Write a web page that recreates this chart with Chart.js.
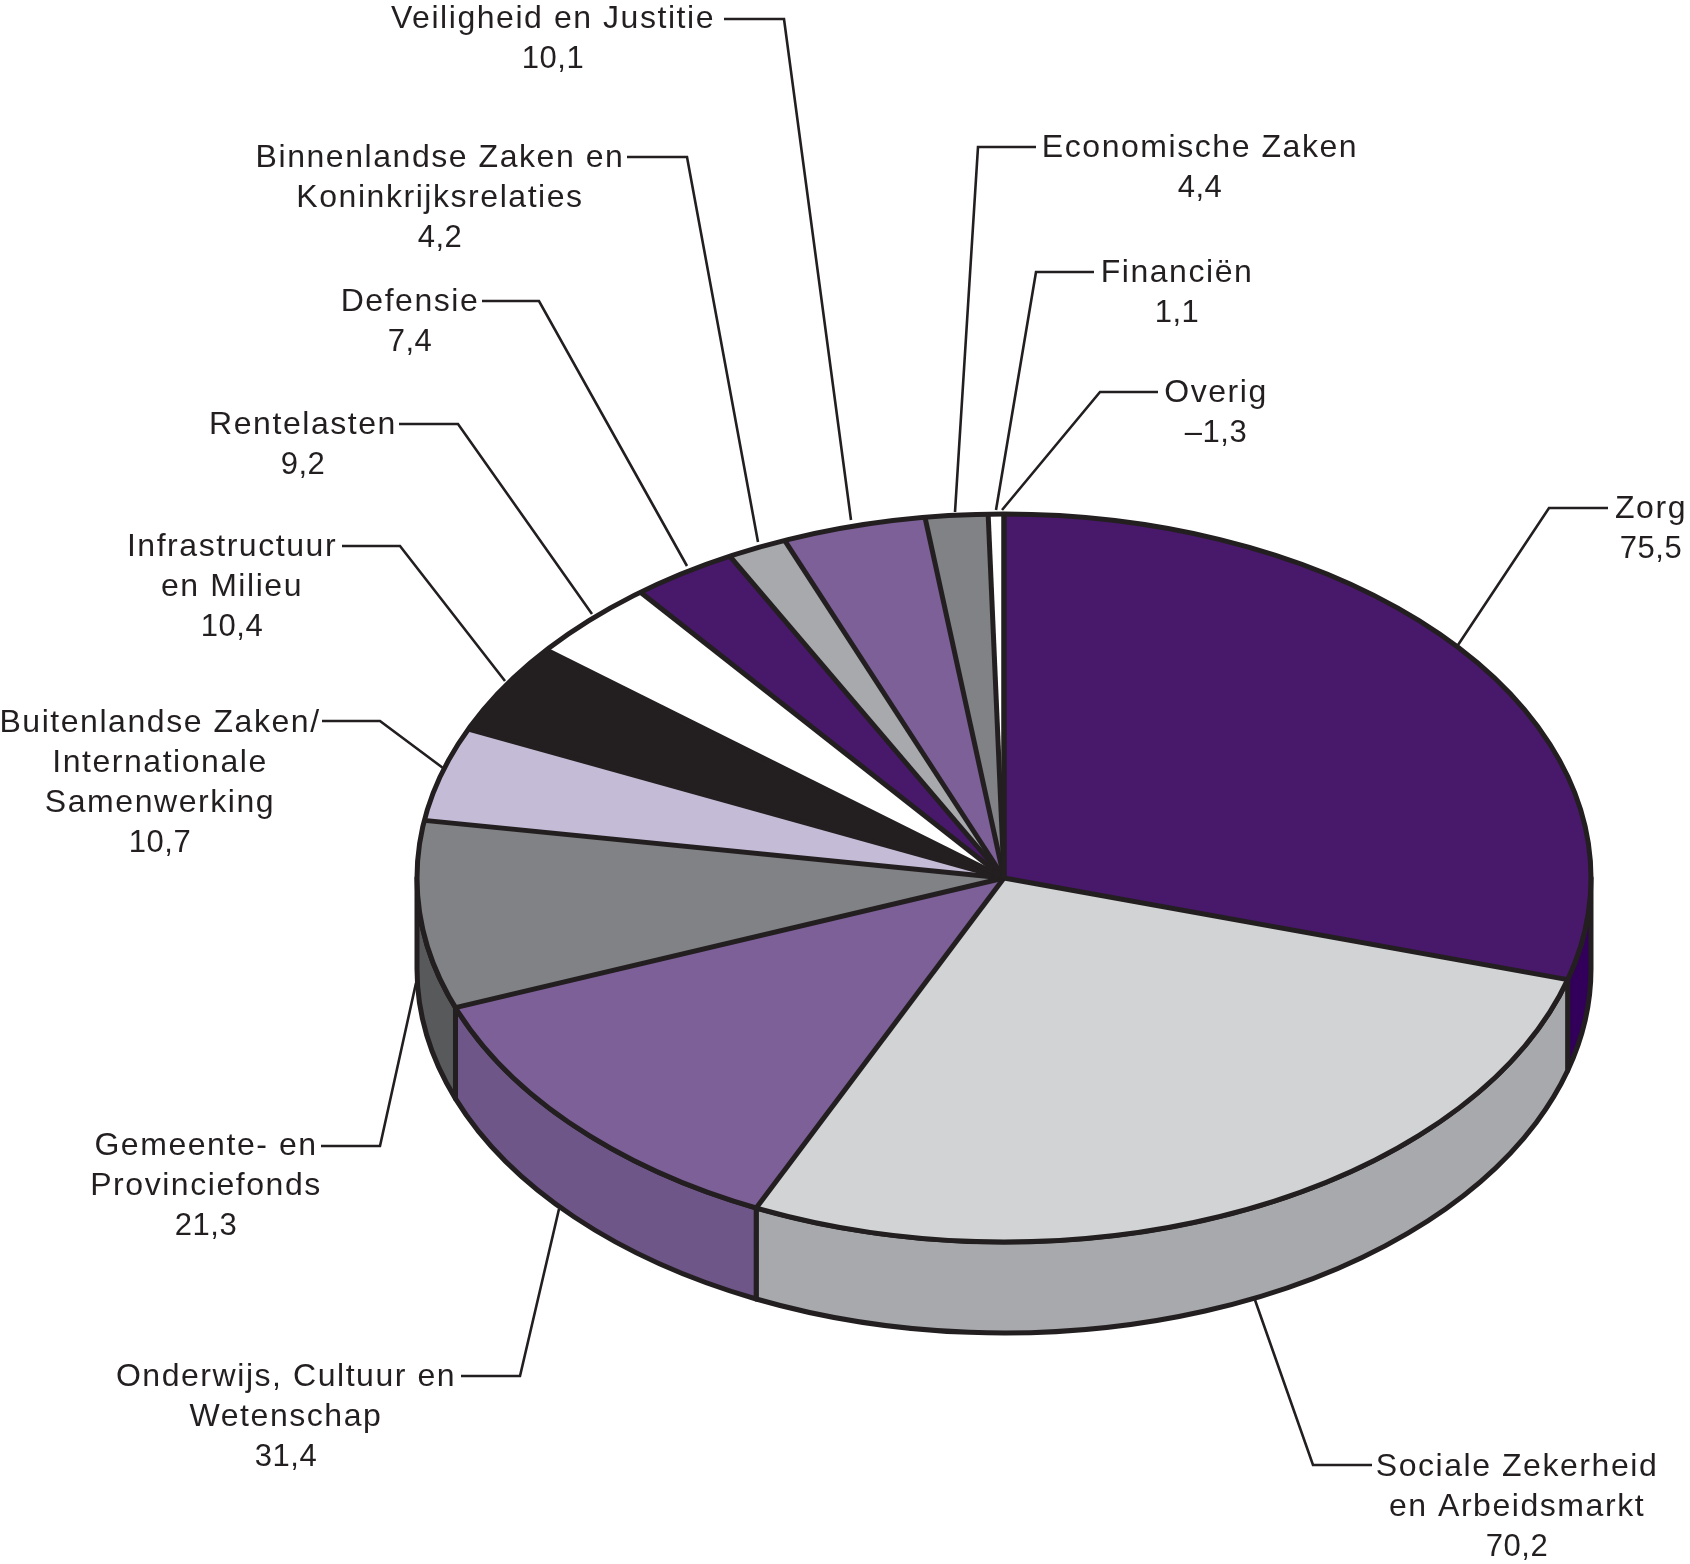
<!DOCTYPE html>
<html lang="nl">
<head>
  <meta charset="UTF-8">
  <title>Uitgaven per sector</title>
  <script src="https://cdn.jsdelivr.net/npm/chart.js"></script>
  <style>
    html, body { margin: 0; padding: 0; background: #fff; }
    canvas { display: block; }
  </style>
</head>
<body>
  <canvas id="pie" width="1690" height="1564"></canvas>

  <script>
    // Data, clockwise from the top of the pie
    const categories = [
      'Zorg', 'Sociale Zekerheid en Arbeidsmarkt', 'Onderwijs, Cultuur en Wetenschap',
      'Gemeente- en Provinciefonds', 'Buitenlandse Zaken/Internationale Samenwerking',
      'Infrastructuur en Milieu', 'Rentelasten', 'Defensie',
      'Binnenlandse Zaken en Koninkrijksrelaties', 'Veiligheid en Justitie',
      'Economische Zaken', 'Financiën', 'Overig'
    ];
    const values = [75.5, 70.2, 31.4, 21.3, 10.7, 10.4, 9.2, 7.4, 4.2, 10.1, 4.4, 1.1, -1.3];

    // Slice colours: top face and side wall
    const topColors = ['#48186a', '#d1d3d4', '#7d6098', '#808285', '#c4bbd6', '#231f20', '#ffffff',
                       '#48186a', '#a7a9ac', '#7d6098', '#808285', '#ffffff', '#ffffff'];
    const sideColors = ['#32005a', '#a7a9ac', '#6f5688', '#58595b', '#a39ab5', '#231f20', '#dddddd',
                        '#32005a', '#808285', '#6f5688', '#58595b', '#dddddd', '#dddddd'];

    // Label layout: wrapped text, centre x, first baseline, leader line
    const labelLayout = [
      { lines: ['Zorg'], x: 1651, y: 518, leader: [[1608, 508], [1549, 508], [1458, 645]] },
      { lines: ['Sociale Zekerheid', 'en Arbeidsmarkt'], x: 1517, y: 1476, leader: [[1372, 1465], [1313, 1465], [1255, 1300]] },
      { lines: ['Onderwijs, Cultuur en', 'Wetenschap'], x: 286, y: 1386, leader: [[461, 1376], [520, 1376], [559, 1209]] },
      { lines: ['Gemeente- en', 'Provinciefonds'], x: 206, y: 1155, leader: [[321, 1146], [380, 1146], [416, 983]] },
      { lines: ['Buitenlandse Zaken/', 'Internationale', 'Samenwerking'], x: 160, y: 732, leader: [[322, 721], [380, 721], [443, 768]] },
      { lines: ['Infrastructuur', 'en Milieu'], x: 232, y: 556, leader: [[342, 546], [400, 546], [505, 681]] },
      { lines: ['Rentelasten'], x: 303, y: 434, leader: [[399, 424], [458, 424], [592, 614]] },
      { lines: ['Defensie'], x: 410, y: 311, leader: [[482, 301], [539, 301], [687, 566]] },
      { lines: ['Binnenlandse Zaken en', 'Koninkrijksrelaties'], x: 440, y: 167, leader: [[627, 157], [687, 157], [758, 542]] },
      { lines: ['Veiligheid en Justitie'], x: 553, y: 28, leader: [[724, 19], [784, 19], [851, 520]] },
      { lines: ['Economische Zaken'], x: 1200, y: 157, leader: [[1036, 147], [978, 147], [955, 512]] },
      { lines: ['Financiën'], x: 1177, y: 282, leader: [[1094, 272], [1036, 272], [996, 510]] },
      { lines: ['Overig'], x: 1216, y: 402, leader: [[1158, 392], [1100, 392], [1002, 510]] }
    ];

    const PIE_X = 1004;
    const PIE_Y = 878;
    const RADIUS = 587;
    const TILT = 364 / 587;  // vertical squash of the pie
    const DEPTH = 91;        // height of the side wall
    const INK = '#231f20';

    function formatValue(v) {
      return v.toFixed(1).replace('.', ',').replace('-', '\u2013');
    }

    function drawLeaders(ctx) {
      ctx.strokeStyle = INK;
      ctx.lineWidth = 2.6;
      ctx.lineJoin = 'miter';
      labelLayout.forEach(l => {
        ctx.beginPath();
        l.leader.forEach((p, i) => i ? ctx.lineTo(p[0], p[1]) : ctx.moveTo(p[0], p[1]));
        ctx.stroke();
      });
    }

    // Part of the wall below one slice, only the front half of the pie shows
    function wallPath(ctx, a1, a2) {
      const ry = RADIUS * TILT;
      ctx.beginPath();
      ctx.ellipse(PIE_X, PIE_Y, RADIUS, ry, 0, a1, a2);
      ctx.ellipse(PIE_X, PIE_Y + DEPTH, RADIUS, ry, 0, a2, a1, true);
      ctx.closePath();
    }

    function drawWalls(ctx, arcs) {
      ctx.lineWidth = 5;
      ctx.lineJoin = 'round';
      ctx.strokeStyle = INK;
      arcs.forEach((arc, i) => {
        const a1 = Math.max(arc.startAngle, 0);
        const a2 = Math.min(arc.endAngle, Math.PI);
        if (a1 >= a2) return;
        wallPath(ctx, a1, a2);
        ctx.fillStyle = sideColors[i];
        ctx.fill();
        ctx.stroke();
      });
    }

    // Stroked outside the squash transform so the line width stays even
    function drawOutlines(ctx, arcs) {
      const ry = RADIUS * TILT;
      ctx.strokeStyle = INK;
      ctx.lineWidth = 5;
      ctx.lineJoin = 'round';
      arcs.forEach(arc => {
        ctx.beginPath();
        ctx.moveTo(PIE_X, PIE_Y);
        ctx.lineTo(PIE_X + RADIUS * Math.cos(arc.endAngle), PIE_Y + ry * Math.sin(arc.endAngle));
        ctx.stroke();
      });
      ctx.beginPath();
      ctx.ellipse(PIE_X, PIE_Y, RADIUS, ry, 0, 0, Math.PI * 2);
      ctx.stroke();
    }

    function drawLabels(ctx) {
      ctx.fillStyle = INK;
      ctx.textAlign = 'center';
      ctx.textBaseline = 'alphabetic';
      labelLayout.forEach((l, i) => {
        ctx.font = '32px "Liberation Sans"';
        ctx.letterSpacing = '1.55px';
        l.lines.forEach((line, n) => ctx.fillText(line, l.x, l.y + n * 40));
        // digits run narrower than the letters in the original type
        ctx.font = '31px "Liberation Sans"';
        ctx.letterSpacing = '0.5px';
        ctx.fillText(formatValue(values[i]), l.x, l.y + l.lines.length * 40);
      });
    }

    const pie3d = {
      id: 'pie3d',
      beforeDatasetsDraw(chart) {
        const ctx = chart.ctx;
        const arcs = chart.getDatasetMeta(0).data;
        drawLeaders(ctx);
        drawWalls(ctx, arcs);
        ctx.save();
        ctx.translate(PIE_X, PIE_Y);
        ctx.scale(1, TILT);
        ctx.translate(-arcs[0].x, -arcs[0].y);
      },
      afterDatasetsDraw(chart) {
        const ctx = chart.ctx;
        ctx.restore();
        drawOutlines(ctx, chart.getDatasetMeta(0).data);
        drawLabels(ctx);
      }
    };

    new Chart(document.getElementById('pie'), {
      type: 'pie',
      plugins: [pie3d],
      data: {
        labels: categories,
        datasets: [{
          // negative posts get no slice in the original, only a label
          data: values.map(v => Math.max(v, 0)),
          backgroundColor: topColors,
          borderWidth: 0,
          clip: false
        }]
      },
      options: {
        responsive: false,
        animation: false,
        radius: RADIUS,
        layout: { padding: { left: PIE_X - RADIUS, right: 1690 - PIE_X - RADIUS } },
        plugins: { legend: { display: false }, tooltip: { enabled: false } }
      }
    });
  </script>
</body>
</html>
